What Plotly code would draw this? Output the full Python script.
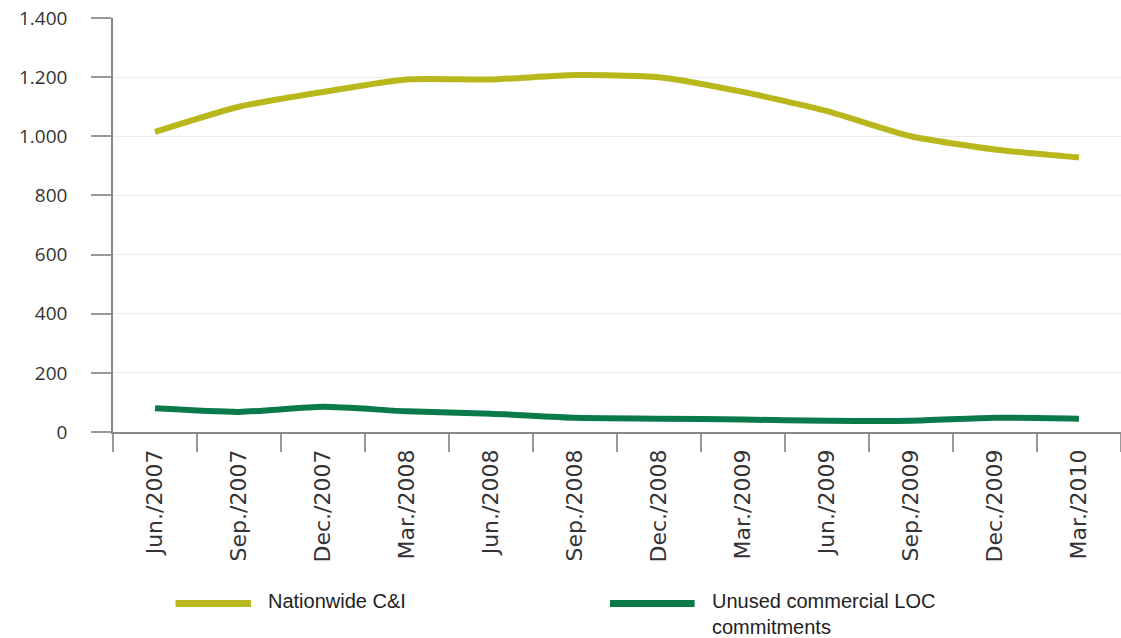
import plotly.graph_objects as go

categories = ["Jun./2007", "Sep./2007", "Dec./2007", "Mar./2008", "Jun./2008", "Sep./2008",
              "Dec./2008", "Mar./2009", "Jun./2009", "Sep./2009", "Dec./2009", "Mar./2010"]
nationwide_ci = [1015, 1100, 1150, 1192, 1192, 1207, 1200, 1150, 1085, 1000, 955, 928]
unused_loc = [80, 68, 85, 70, 62, 48, 45, 42, 38, 38, 48, 45]
y_tickvals = [0, 200, 400, 600, 800, 1000, 1200, 1400]
y_ticktext = ["0", "200", "400", "600", "800", "1.000", "1.200", "1.400"]
series_names = ["Nationwide C&I", "Unused commercial LOC<br>commitments"]

OLIVE = "#B8B81C"
GREEN = "#0B7A4B"

fig = go.Figure()
fig.add_trace(go.Scatter(x=categories, y=nationwide_ci, mode="lines",
                         line=dict(color=OLIVE, width=6, shape="spline", smoothing=0.6),
                         name=series_names[0], showlegend=False))
fig.add_trace(go.Scatter(x=categories, y=unused_loc, mode="lines",
                         line=dict(color=GREEN, width=6, shape="spline", smoothing=0.6),
                         name=series_names[1], showlegend=False))

# custom legend (line samples + labels) below the plot
LEG_Y = -0.414
legend_items = [(OLIVE, 0.062, 0.137, series_names[0]), (GREEN, 0.493, 0.577, series_names[1])]
for color, x0, x1, label in legend_items:
    fig.add_shape(type="line", xref="paper", yref="paper", x0=x0, x1=x1, y0=LEG_Y, y1=LEG_Y,
                  line=dict(color=color, width=7))
    fig.add_annotation(xref="paper", yref="paper", x=x1 + 0.015, y=LEG_Y + 0.038,
                       text=label, showarrow=False, xanchor="left", yanchor="top",
                       align="left", font=dict(family="Liberation Sans, Arial", size=20, color="#222"))

fig.update_layout(
    width=1121, height=638,
    margin=dict(l=113, r=0, t=18, b=206),
    paper_bgcolor="white", plot_bgcolor="white",
    font=dict(family="Open Sans, sans-serif", size=19, color="#333"),
    xaxis=dict(type="category", tickson="boundaries", ticks="outside", ticklen=18,
               tickcolor="#999", tickwidth=1.5, tickangle=-90, showgrid=False,
               showline=True, linecolor="#888", linewidth=1.5, ticklabelstandoff=7,
               tickfont=dict(family="DejaVu Sans, sans-serif", size=22, color="#333"),
               range=[-0.5, 11.5]),
    yaxis=dict(range=[0, 1400], tickvals=y_tickvals, ticktext=y_ticktext,
               ticks="outside", ticklen=20, tickcolor="#999", tickwidth=1.5,
               showline=True, linecolor="#888", linewidth=1.5,
               showgrid=True, gridcolor="#ececec", gridwidth=1, zeroline=False,
               ticklabelstandoff=20, tickfont=dict(size=19, color="#333")),
)

fig.write_html("out.html")
